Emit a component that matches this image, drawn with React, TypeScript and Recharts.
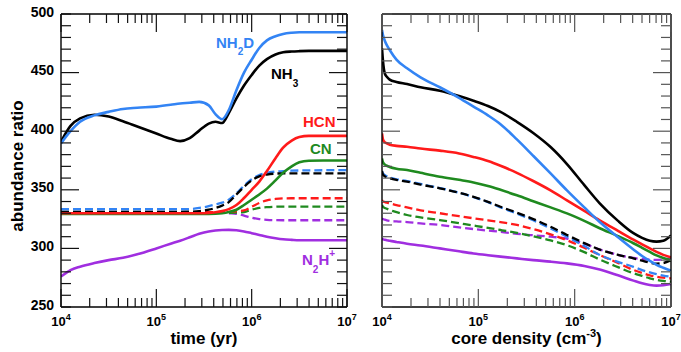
import React from 'react';
import { LineChart, Line, XAxis, YAxis } from 'recharts';

// ---------- Left panel: abundance ratio vs time (log10 of yr) ----------
const timeExp = [4.0, 4.1, 4.2, 4.35, 4.5, 4.65, 4.8, 5.0, 5.15, 5.25, 5.35, 5.45, 5.55, 5.62, 5.69, 5.76, 5.84, 5.92, 6.0, 6.08, 6.16, 6.25, 6.33, 6.42, 6.5, 6.6, 6.75, 7.0];
const nh3Time = [391, 404.5, 411, 414, 412.5, 408.5, 404, 398, 393.5, 391.5, 394, 400.5, 406.5, 408, 407, 415.5, 428, 439, 448, 456, 461.5, 465.5, 467.3, 468, 468.3, 468.5, 468.5, 468.5];
const nh2dTime = [389.6, 400, 408, 413.5, 416.5, 419, 420, 421, 422.5, 423.7, 424.3, 425, 422, 414.5, 410.2, 418, 435, 450, 461, 471, 477.5, 481, 483, 484, 484.4, 484.4, 484.4, 484.4];
const hcnTime = [330, 330, 330, 330, 330, 330, 330, 330, 330, 330, 330, 330, 330.2, 330.8, 331.8, 333.5, 337, 343, 350, 357, 366, 377, 386, 392, 395, 396, 396, 396];
const cnTime = [329.5, 329.5, 329.5, 329.5, 329.5, 329.5, 329.5, 329.5, 329.5, 329.5, 329.5, 329.5, 329.5, 329.6, 330, 331, 333, 337, 341.5, 346, 351, 358, 364.5, 370, 373.5, 374.8, 375, 375];
const n2hTime = [276, 281.5, 284.4, 287.5, 290, 292, 295, 300, 304, 306.6, 309.5, 312.5, 314.5, 315.3, 315.7, 315.8, 315.5, 314.5, 313, 311.5, 310, 308.7, 307.8, 307.3, 307, 307, 307, 307];
const nh2dTimeDash = [333.4, 333.4, 333.4, 333.4, 333.4, 333.4, 333.4, 333.4, 333.4, 333.4, 333.6, 334.5, 336, 337.5, 339, 341.5, 347, 353.5, 359, 362.5, 364.5, 365.5, 366, 366.3, 366.5, 366.6, 366.7, 366.8];
const nh3TimeDash = [331.2, 331.2, 331.2, 331.2, 331.2, 331.2, 331.2, 331.2, 331.2, 331.2, 331.3, 331.8, 333, 334.5, 336.5, 339.5, 346, 352.5, 358, 361.5, 363, 363.8, 364, 364, 364, 364, 364, 364];
const hcnTimeDash = [331, 331, 331, 331, 331, 331, 331, 331, 331, 331, 331, 331, 331, 331, 331, 331.2, 331.7, 332.5, 335.5, 338.8, 341, 342.2, 342.7, 342.8, 342.8, 342.8, 342.8, 342.8];
const cnTimeDash = [330.3, 330.3, 330.3, 330.3, 330.3, 330.3, 330.3, 330.3, 330.3, 330.3, 330.3, 330.3, 330.3, 330.3, 330.3, 330.3, 330.5, 331, 333, 334.5, 335.2, 335.6, 335.7, 335.7, 335.7, 335.7, 335.7, 335.7];
const n2hTimeDash = [330.8, 330.8, 330.8, 330.8, 330.8, 330.8, 330.8, 330.8, 330.8, 330.8, 330.8, 330.8, 330.8, 330.8, 330.5, 330, 329.5, 328, 326.2, 325, 324.4, 324.1, 324, 324, 324, 324, 324, 324];

// ---------- Right panel: abundance ratio vs core density (log10 of cm^-3) ----------
const densExp = [4.0, 4.01, 4.03, 4.05, 4.08, 4.15, 4.26, 4.4, 4.6, 4.8, 4.95, 5.1, 5.23, 5.4, 5.57, 5.75, 5.92, 6.1, 6.26, 6.45, 6.61, 6.7, 6.78, 6.85, 6.92, 7.0];
const nh3Dens = [470.7, 460, 449, 446.5, 444, 442, 440.3, 437.5, 434.6, 430, 426, 421.5, 416.5, 408, 398.5, 386.5, 372, 354, 338.5, 323.5, 313, 309, 306.5, 305.8, 306.5, 311];
const nh2dDens = [486.3, 482, 477, 473.5, 469.3, 461, 453.7, 446, 437.5, 428.5, 421, 413.5, 406, 393, 379, 364, 349.5, 335, 322.5, 309.5, 299, 293.5, 289.3, 286, 283.5, 281];
const hcnDens = [398, 393, 390.5, 389.7, 388.5, 387.5, 386.8, 385.2, 383.4, 381, 378, 374.5, 370.5, 364.5, 357.5, 349.5, 341, 332, 324, 315, 307.5, 303.5, 300, 297, 294.5, 292.4];
const cnDens = [376.8, 373.5, 371.5, 370.5, 369.5, 368, 366.9, 364.5, 361.2, 358.5, 356.3, 353.3, 350, 345.3, 340.3, 335, 329.9, 323.5, 317.2, 310.5, 304.4, 300.5, 297, 294, 291.8, 290];
const n2hDens = [308.6, 307.8, 307.3, 307, 306.5, 305.5, 304, 302.5, 300, 297.5, 295.7, 294.2, 293, 291.5, 290, 288.7, 287.2, 285, 282, 277, 272.5, 270.2, 268.8, 268.2, 268.5, 269.6];
const nh3DensDash = [366, 363, 361.5, 360.5, 359.8, 358.5, 357, 354.5, 351.3, 347.5, 344, 339.7, 335.5, 330.5, 325, 318.5, 311.5, 304.5, 299, 294.5, 291.5, 289.5, 287.8, 287, 287.5, 290];
const nh2dDensDash = [366, 364, 362.5, 361.5, 360.5, 359, 357.5, 355, 351.5, 347.5, 343.8, 339.5, 335, 329.8, 324, 317, 310, 302, 294.4, 288.5, 284.3, 281.5, 279.5, 278, 276.8, 275.8];
const hcnDensDash = [341.3, 340, 339.5, 339, 338.5, 337, 335, 332.5, 330, 327.5, 325.7, 324, 322.5, 320, 316.5, 312, 307, 300.5, 294.4, 287.5, 281.6, 279, 277, 275.8, 275, 274.4];
const cnDensDash = [337, 335.5, 334.5, 333.8, 332.8, 331, 328.5, 326.5, 324.2, 321.5, 319.5, 317.5, 315.7, 313.2, 310.3, 306.8, 302.7, 296.8, 290.5, 284, 278.8, 276.5, 274.5, 273.2, 272.3, 271.6];
const n2hDensDash = [325.7, 325, 324.5, 324, 323.5, 323, 322.5, 321.3, 320, 318, 316.5, 315.2, 314.2, 312.5, 311.2, 310, 308.3, 304, 299, 294.5, 291.8, 290.8, 290.3, 290.2, 290.6, 291.6];

// ---------- Ticks ----------
const xTicks = [1e4, 2e4, 3e4, 4e4, 5e4, 6e4, 7e4, 8e4, 9e4, 1e5, 2e5, 3e5, 4e5, 5e5, 6e5, 7e5, 8e5, 9e5, 1e6, 2e6, 3e6, 4e6, 5e6, 6e6, 7e6, 8e6, 9e6, 1e7];
const decadeTicks = [1e4, 1e5, 1e6, 1e7];
const decadeExpLabels = ['4', '5', '6', '7'];
const yTicks = [250, 260, 270, 280, 290, 300, 310, 320, 330, 340, 350, 360, 370, 380, 390, 400, 410, 420, 430, 440, 450, 460, 470, 480, 490, 500];
const yLabelTicks = [250, 300, 350, 400, 450, 500];
const yMajorTicks = [300, 350, 400, 450];

const BLACK = '#000000';
const BLUE = '#3384f4';
const RED = '#ff1a1a';
const GREEN = '#1f8a1f';
const PURPLE = '#a02ee0';
const FONT = '"Liberation Sans", Arial, Helvetica, sans-serif';

const timeData = timeExp.map((e, i) => ({
  x: Math.pow(10, e),
  nh3: nh3Time[i], nh2d: nh2dTime[i], hcn: hcnTime[i], cn: cnTime[i], n2h: n2hTime[i],
  nh3d: nh3TimeDash[i], nh2dd: nh2dTimeDash[i], hcnd: hcnTimeDash[i], cnd: cnTimeDash[i], n2hd: n2hTimeDash[i],
}));
const densData = densExp.map((e, i) => ({
  x: Math.pow(10, e),
  nh3: nh3Dens[i], nh2d: nh2dDens[i], hcn: hcnDens[i], cn: cnDens[i], n2h: n2hDens[i],
  nh3d: nh3DensDash[i], nh2dd: nh2dDensDash[i], hcnd: hcnDensDash[i], cnd: cnDensDash[i], n2hd: n2hDensDash[i],
}));

const decadeIndex = (v: number) => decadeTicks.findIndex((d) => Math.abs(d - v) < d * 1e-6);

const makeXTick = (side: 'top' | 'bottom', color: string, labels: boolean) => (props: any) => {
  const { x, y, payload } = props;
  const di = decadeIndex(payload.value);
  const major = di >= 0;
  const len = major ? 18 : 9;
  const dir = side === 'bottom' ? -1 : 1;
  return (
    <g>
      <line x1={x} x2={x} y1={y} y2={y + dir * len} stroke={color} strokeWidth={1.2} />
      {labels && major && (
        <text x={x} y={y + 18.5} textAnchor="middle" fontFamily={FONT} fontWeight="bold" fontSize={13} fill="#000">
          <tspan>10</tspan>
          <tspan dy={-6} fontSize={9}>{decadeExpLabels[di]}</tspan>
        </text>
      )}
    </g>
  );
};

const makeYTick = (side: 'left' | 'right', color: string, labels: boolean) => (props: any) => {
  const { x, y, payload } = props;
  const v = payload.value;
  const major = yMajorTicks.includes(v);
  const len = major ? 18 : 10;
  const dir = side === 'left' ? 1 : -1;
  return (
    <g>
      <line x1={x} x2={x + dir * len} y1={y} y2={y} stroke={color} strokeWidth={1.2} />
      {labels && yLabelTicks.includes(v) && (
        <text x={x - 7} y={y + 2.5} textAnchor="end" fontFamily={FONT} fontWeight="bold" fontSize={14} fill="#000">
          {v}
        </text>
      )}
    </g>
  );
};

const axisLine = { stroke: '#000', strokeWidth: 1.4 };

const seriesLines = [
  { key: 'n2hd', color: PURPLE, dash: true },
  { key: 'cnd', color: GREEN, dash: true },
  { key: 'hcnd', color: RED, dash: true },
  { key: 'nh2dd', color: BLUE, dash: true },
  { key: 'nh3d', color: BLACK, dash: true },
  { key: 'n2h', color: PURPLE, dash: false },
  { key: 'cn', color: GREEN, dash: false },
  { key: 'hcn', color: RED, dash: false },
  { key: 'nh3', color: BLACK, dash: false },
  { key: 'nh2d', color: BLUE, dash: false },
];

function Panel(props: {
  data: any[]; width: number; leftW: number; rightW: number; tickColor: string;
  yLabels: boolean; xTitle: React.ReactNode; yTitle?: string;
}) {
  const { data, width, leftW, rightW, tickColor, yLabels, xTitle, yTitle } = props;
  return (
    <LineChart width={width} height={352} data={data} margin={{ top: 0, right: 0, bottom: 0, left: 0 }}>
      <XAxis
        xAxisId="b" dataKey="x" type="number" scale="log" domain={[1e4, 1e7]} allowDataOverflow
        ticks={xTicks} interval={0} tickSize={0} tickMargin={0} tickLine={false} axisLine={axisLine}
        height={45} orientation="bottom" tick={makeXTick('bottom', tickColor, true)}
        label={{
          content: (p: any) => {
            const vb = p.viewBox || { x: 0, y: 0, width: 0 };
            return (
              <text x={vb.x + vb.width / 2} y={vb.y + 36.5} textAnchor="middle" fontFamily={FONT} fontWeight="bold" fontSize={17} fill="#000">
                {xTitle}
              </text>
            );
          },
        }}
      />
      <XAxis
        xAxisId="t" dataKey="x" type="number" scale="log" domain={[1e4, 1e7]} allowDataOverflow
        ticks={xTicks} interval={0} tickSize={0} tickMargin={0} tickLine={false} axisLine={axisLine}
        height={14} orientation="top" tick={makeXTick('top', tickColor, false)}
      />
      <YAxis
        yAxisId="l" type="number" domain={[250, 500]} allowDataOverflow ticks={yTicks} interval={0}
        tickSize={0} tickMargin={0} tickLine={false} axisLine={axisLine} width={leftW} orientation="left"
        tick={makeYTick('left', tickColor, yLabels)}
        label={yTitle ? {
          content: (p: any) => {
            const vb = p.viewBox || { x: 0, y: 0, height: 0 };
            const cx = 23;
            const cy = vb.y + vb.height / 2 + 5.5;
            return (
              <text x={cx} y={cy} transform={`rotate(-90, ${cx}, ${cy})`} textAnchor="middle" fontFamily={FONT} fontWeight="bold" fontSize={17} fill="#000">
                {yTitle}
              </text>
            );
          },
        } : undefined}
      />
      <YAxis
        yAxisId="r" type="number" domain={[250, 500]} allowDataOverflow ticks={yTicks} interval={0}
        tickSize={0} tickMargin={0} tickLine={false} axisLine={axisLine} width={rightW} orientation="right"
        tick={makeYTick('right', tickColor, false)}
      />
      {seriesLines.map((s) => (
        <Line
          key={s.key} xAxisId="b" yAxisId="l" dataKey={s.key} type="monotone" stroke={s.color}
          strokeWidth={s.dash ? 2.3 : 2.6} strokeDasharray={s.dash ? '8 4' : undefined}
          dot={false} activeDot={false} isAnimationActive={false}
        />
      ))}
    </LineChart>
  );
}

export default function App() {
  const lbl = { fontFamily: FONT, fontWeight: 'bold' as const, fontSize: 15 };
  return (
    <div style={{ position: 'absolute', left: 0, top: 0, width: 681, height: 352, background: '#fff' }}>
      <div style={{ position: 'absolute', left: 0, top: 0 }}>
        <Panel data={timeData} width={360} leftW={61} rightW={13} tickColor="#111" yLabels={true}
          xTitle="time (yr)" yTitle="abundance ratio" />
      </div>
      <div style={{ position: 'absolute', left: 360, top: 0 }}>
        <Panel data={densData} width={321} leftW={22} rightW={10} tickColor="#555" yLabels={false}
          xTitle={<>
            <tspan>core density (cm</tspan>
            <tspan dy={-7} fontSize={11}>-3</tspan>
            <tspan dy={7}>)</tspan>
          </>} />
      </div>
      <svg width={681} height={352} style={{ position: 'absolute', left: 0, top: 0, pointerEvents: 'none' }}>
        <text x={216} y={48} fill={BLUE} {...lbl}>
          <tspan>NH</tspan><tspan dy={7} fontSize={10}>2</tspan><tspan dy={-7}>D</tspan>
        </text>
        <text x={271} y={79} fill={BLACK} {...lbl}>
          <tspan>NH</tspan><tspan dy={8} fontSize={10}>3</tspan>
        </text>
        <text x={303} y={126.5} fill={RED} {...lbl}>HCN</text>
        <text x={310} y={154} fill={GREEN} {...lbl}>CN</text>
        <text x={302} y={265} fill={PURPLE} {...lbl}>
          <tspan>N</tspan><tspan dy={8} fontSize={10}>2</tspan><tspan dy={-8}>H</tspan><tspan dy={-8} fontSize={10}>+</tspan>
        </text>
      </svg>
    </div>
  );
}
